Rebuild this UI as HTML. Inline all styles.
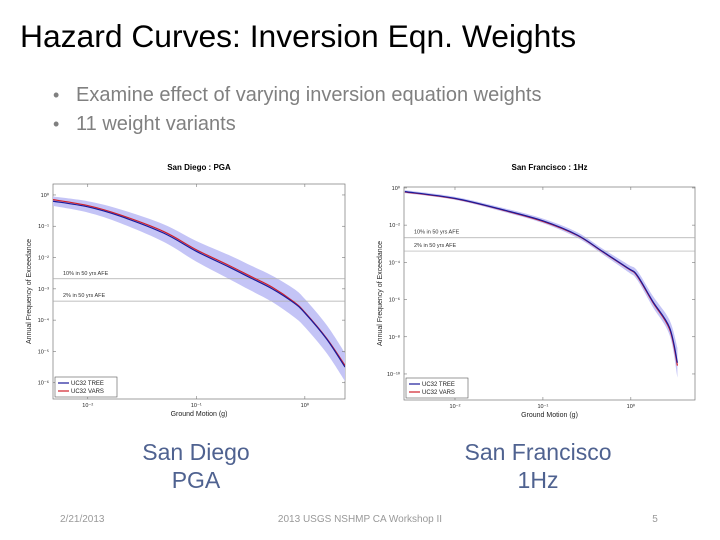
<!DOCTYPE html>
<html><head><meta charset="utf-8"><style>
html,body{margin:0;padding:0;background:#fff;}
svg{display:block;font-family:"Liberation Sans",Arial,sans-serif;}
</style></head><body>
<svg id="s" width="720" height="540" viewBox="0 0 720 540" xmlns="http://www.w3.org/2000/svg">
<text x="20" y="47" font-size="31.8" fill="#000">Hazard Curves: Inversion Eqn. Weights</text>
<text x="53" y="101" font-size="18" fill="#808080">•</text>
<text x="76" y="101" font-size="20" fill="#808080">Examine effect of varying inversion equation weights</text>
<text x="53" y="130" font-size="18" fill="#808080">•</text>
<text x="76" y="130" font-size="20" fill="#808080">11 weight variants</text>
<text x="196" y="460" font-size="23" fill="#4f6290" text-anchor="middle">San Diego</text>
<text x="196" y="488" font-size="23" fill="#4f6290" text-anchor="middle">PGA</text>
<text x="538" y="460" font-size="23" fill="#4f6290" text-anchor="middle">San Francisco</text>
<text x="538" y="488" font-size="23" fill="#4f6290" text-anchor="middle">1Hz</text>
<text x="60" y="522" font-size="10" fill="#999">2/21/2013</text>
<text x="360" y="522" font-size="10" fill="#999" text-anchor="middle">2013 USGS NSHMP CA Workshop II</text>
<text x="655" y="522" font-size="10" fill="#999" text-anchor="middle">5</text>
<g id="c1"></g><g id="c2"></g>
</svg>
<script>
// San Diego PGA (log10 x, log10 y)
const sdLogX = [-2.32,-2,-1.7,-1.3,-1,-0.7,-0.5,-0.3,-0.1,0,0.2,0.37];
const sdTree = [-0.2,-0.38,-0.68,-1.22,-1.8,-2.3,-2.65,-3.0,-3.45,-3.77,-4.6,-5.5];
const sdVars = [-0.15,-0.34,-0.64,-1.17,-1.75,-2.25,-2.6,-2.95,-3.42,-3.75,-4.58,-5.45];
const sdBand = [0.15,0.18,0.22,0.28,0.33,0.38,0.4,0.42,0.45,0.45,0.45,0.45];
// San Francisco 1Hz
const sfLogX = [-2.57,-2,-1.45,-1,-0.61,-0.32,-0.03,0.07,0.25,0.44,0.53];
const sfTree = [-0.2,-0.56,-1.18,-1.77,-2.53,-3.42,-4.32,-4.68,-6.1,-7.5,-9.4];
const sfVars = [-0.22,-0.58,-1.2,-1.8,-2.55,-3.44,-4.34,-4.72,-6.15,-7.58,-9.55];
const sfBand = [0.08,0.08,0.1,0.12,0.15,0.15,0.2,0.25,0.3,0.4,0.8];
const sdYTicks = [0,-1,-2,-3,-4,-5,-6];
const sfYTicks = [0,-2,-4,-6,-8,-10];
const sdXTicks = [-2,-1,0];
const sfXTicks = [-2,-1,0];
const afe = [Math.log10(0.0021), Math.log10(0.000404)];
const afeLabels = ["10% in 50 yrs AFE","2% in 50 yrs AFE"];

const NS="http://www.w3.org/2000/svg";
function mk(parent,tag,attrs){const e=document.createElementNS(NS,tag);for(const k in attrs)e.setAttribute(k,attrs[k]);parent.appendChild(e);return e;}
function smooth(pts){
  let d='M'+pts[0][0]+','+pts[0][1];
  for(let i=0;i<pts.length-1;i++){
    const p0=pts[i-1]||pts[i],p1=pts[i],p2=pts[i+1],p3=pts[i+2]||p2;
    const c1=[p1[0]+(p2[0]-p0[0])/6,p1[1]+(p2[1]-p0[1])/6];
    const c2=[p2[0]-(p3[0]-p1[0])/6,p2[1]-(p3[1]-p1[1])/6];
    d+=' C'+c1+' '+c2+' '+p2;
  }
  return d;
}
function smoothNoM(pts){return smooth(pts).replace(/^M[^C]*/,'');}

function chart(g,cfg){
  const {x0,x1,y0,y1,lx0,lx1,ly0,ly1}=cfg;
  const X=v=>x0+(v-lx0)/(lx1-lx0)*(x1-x0);
  const Y=v=>y0+(ly0-v)/(ly0-ly1)*(y1-y0);
  const t=mk(g,'text',{x:(x0+x1)/2,y:cfg.ty,'font-size':8,'font-weight':'bold','text-anchor':'middle'});
  t.textContent=cfg.title;
  
  
  const box=mk(g,'rect',{x:x0,y:y0,width:x1-x0,height:y1-y0,fill:'#fff',stroke:'#777','stroke-width':0.7});
  
  
  const cp='cp'+cfg.id;
  const cl=mk(g,'clipPath',{id:cp});mk(cl,'rect',{x:x0,y:y0,width:x1-x0,height:y1-y0});
  const pg=mk(g,'g',{'clip-path':'url(#'+cp+')'});
  const upP=cfg.lx.map((v,i)=>[X(v),Y(cfg.tree[i]+cfg.band[i])]);
  const dnP=cfg.lx.map((v,i)=>[X(v),Y(cfg.tree[i]-cfg.band[i])]).reverse();
  const band=mk(pg,'path',{d:smooth(upP)+' L'+dnP[0]+smoothNoM(dnP)+' Z',fill:'#c4c4f6'});
  
  
  afe.forEach((a,i)=>{
    const l=mk(pg,'line',{x1:x0,x2:x1,y1:Y(a),y2:Y(a),stroke:'#aaa','stroke-width':0.7});
    
    
    const tx=mk(g,'text',{x:x0+10,y:Y(a)-4,'font-size':5.5,fill:'#333'});tx.textContent=afeLabels[i];
    
    
  });
  const vl=mk(pg,'path',{d:smooth(cfg.lx.map((v,i)=>[X(v),Y(cfg.vars[i])])),fill:'none',stroke:'#d0202a','stroke-width':1.2});
  
  
  const tl=mk(pg,'path',{d:smooth(cfg.lx.map((v,i)=>[X(v),Y(cfg.tree[i])])),fill:'none',stroke:'#1a1a9a','stroke-width':1.2});
  
  
  const sup='\u2070\u00B9\u00B2\u00B3\u2074\u2075\u2076\u2077\u2078\u2079';
  cfg.yt.forEach(v=>{
    mk(g,'line',{x1:x0,x2:x0+3,y1:Y(v),y2:Y(v),stroke:'#777','stroke-width':0.6});
    mk(g,'line',{x1:x1,x2:x1-3,y1:Y(v),y2:Y(v),stroke:'#777','stroke-width':0.6});
    const tx=mk(g,'text',{x:x0-4,y:Y(v)+2,'font-size':5.5,'text-anchor':'end',fill:'#222'});
    tx.textContent='10'+(v===0?'\u2070':'\u207B'+String(Math.abs(v)).split('').map(c=>sup[+c]).join(''));
    
    
  });
  cfg.xt.forEach(v=>{
    mk(g,'line',{x1:X(v),x2:X(v),y1:y1,y2:y1-3,stroke:'#777','stroke-width':0.6});
    mk(g,'line',{x1:X(v),x2:X(v),y1:y0,y2:y0+3,stroke:'#777','stroke-width':0.6});
    const tx=mk(g,'text',{x:X(v),y:y1+8,'font-size':5.5,'text-anchor':'middle',fill:'#222'});
    tx.textContent='10'+(v===0?'\u2070':'\u207B'+sup[Math.abs(v)]);
    
    
  });
  const xl=mk(g,'text',{x:(x0+x1)/2,y:y1+17,'font-size':7,'text-anchor':'middle',fill:'#222'});xl.textContent='Ground Motion (g)';
  
  
  const yl=mk(g,'text',{x:0,y:0,'font-size':7,'text-anchor':'middle',fill:'#222',transform:`translate(${x0-22},${(y0+y1)/2}) rotate(-90)`});yl.textContent='Annual Frequency of Exceedance';
  
  
  const lg=mk(g,'g',{});
  
  
  mk(lg,'rect',{x:x0+2,y:y1-22,width:62,height:20,fill:'#fff',stroke:'#555','stroke-width':0.6});
  [['UC32 TREE','#1a1a9a'],['UC32 VARS','#d0202a']].forEach((e,i)=>{
    mk(lg,'line',{x1:x0+5,x2:x0+16,y1:y1-16+i*8,y2:y1-16+i*8,stroke:e[1],'stroke-width':1.2});
    const tx=mk(lg,'text',{x:x0+18,y:y1-14+i*8,'font-size':6,fill:'#222'});tx.textContent=e[0];
    
    
  });
}
const c1=document.getElementById('c1');


const c2=document.getElementById('c2');


chart(c1,{id:1,title:'San Diego : PGA',ty:170,x0:53,x1:345,y0:184,y1:399,lx0:-2.32,lx1:0.37,ly0:0.35,ly1:-6.52,lx:sdLogX,tree:sdTree,vars:sdVars,band:sdBand,yt:sdYTicks,xt:sdXTicks});
chart(c2,{id:2,title:'San Francisco : 1Hz',ty:170,x0:404,x1:695,y0:187,y1:400,lx0:-2.58,lx1:0.73,ly0:0.05,ly1:-11.4,lx:sfLogX,tree:sfTree,vars:sfVars,band:sfBand,yt:sfYTicks,xt:sfXTicks});
</script>
</body></html>
